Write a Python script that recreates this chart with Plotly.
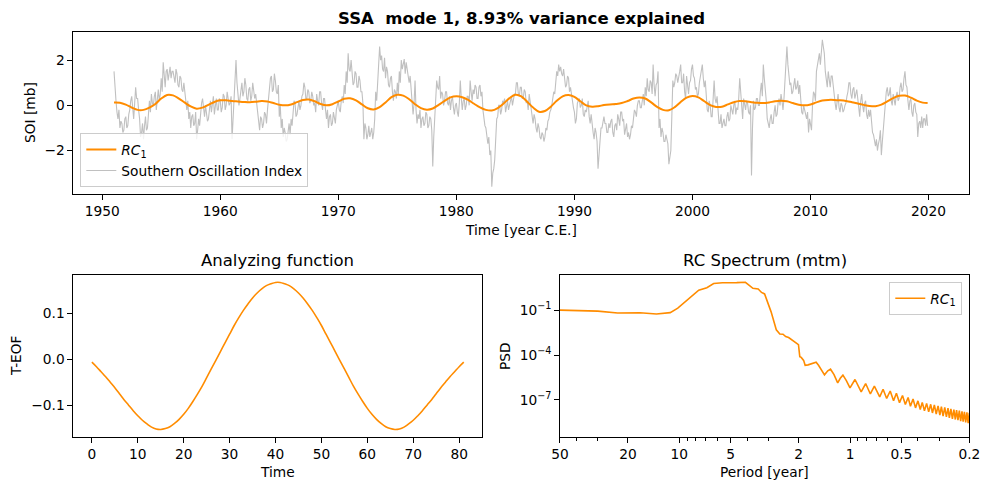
import numpy as np
import plotly.graph_objects as go

# ---------------- data ----------------
soi_start = 1951.0  # monthly series
soi_values = [
    1.5, 0.6, 0.2, -0.3, -0.6, -0.2, -1.0, -0.7, -0.8, -1.2, -1.1, -0.6,
    -0.5, -1.0, -0.9, -0.4, -0.2, 0.2, 0.4, -0.1, -0.6, 0.1, 0.8, 0.3,
    0.3, -0.2, -0.6, -1.4, -1.2, -0.8, -1.5, -0.9, -0.5, -1.1, -1.0, -0.4,
    0.2, -0.3, 0.5, 0.1, 0.0, 0.4, 0.6, -0.2, 0.3, 0.7, 0.2, 0.5,
    1.2, 0.6, 1.9, 1.3, 0.8, 1.5, 1.6, 1.1, 1.4, 1.7, 1.2, 1.5,
    1.5, 1.1, 1.0, 1.6, 1.4, 0.9, 0.8, 1.3, 1.2, 0.7, 0.6, 1.0,
    0.5, 0.1, -0.2, 0.2, -0.6, -0.3, -1.0, -0.5, -0.4, -0.9, -0.8, -0.3,
    -1.5, -1.1, -0.6, -0.9, -0.2, 0.1, 0.3, -0.3, -0.5, 0.0, -0.3, -0.7,
    -0.6, -0.2, 0.2, -0.3, 0.0, 0.4, -0.4, -0.1, 0.3, -0.2, -0.2, 0.3,
    0.2, -0.3, -0.1, 0.5, 0.4, -0.2, 0.0, 0.6, 0.3, 0.0, 0.1, 0.4,
    -1.5, -0.6, -0.3, 0.6, 2.0, 1.0, 0.5, 0.0, 0.3, 0.7, 1.0, 0.4,
    0.6, 1.2, 0.9, 0.3, 0.2, 0.7, 0.8, 0.2, 0.4, 1.0, 0.7, 0.3,
    0.5, 0.0, -0.3, -0.7, -1.1, -0.5, -0.6, -1.0, -0.8, -0.3, -0.4, -0.8,
    -0.2, 0.4, 0.8, 1.2, 1.3, 0.6, 0.7, 1.4, 1.1, 0.6, 0.5, 0.9,
    -0.5, 0.0, -1.0, -0.6, -1.4, -1.0, -1.2, -1.6, -1.5, -1.0, -0.8, -1.3,
    -0.6, -0.9, -0.3, 0.2, 0.1, -0.5, -0.4, 0.0, 0.2, -0.2, 0.0, 0.4,
    0.5, 1.0, 0.8, 0.3, 0.3, 0.7, 0.6, 0.1, 0.2, 0.6, 0.4, 0.0,
    0.1, -0.3, 0.5, 0.2, 0.0, 0.6, 0.6, 0.1, -0.2, 0.3, 0.3, -0.2,
    -0.6, -0.2, -1.0, -0.5, -0.4, -0.9, -0.8, -0.3, -0.5, -0.8, -0.2, 0.1,
    0.2, -0.2, -0.3, 0.2, 0.4, 0.1, 0.9, 0.5, 1.5, 1.0, 2.3, 1.6,
    1.5, 2.0, 1.2, 0.9, 1.0, 1.5, 1.4, 0.8, 0.8, 1.3, 1.1, 0.6,
    0.6, 0.1, -1.5, -0.8, -1.0, -1.5, -1.3, -0.9, -1.4, -1.1, -1.0, -1.5,
    -1.2, -0.6, 0.6, 0.2, 1.2, 1.8, 2.6, 2.0, 2.2, 1.6, 1.5, 2.1,
    1.2, 1.7, 1.5, 0.9, 0.8, 1.2, 1.3, 0.6, 0.2, 0.7, 0.6, 0.3,
    1.0, 0.5, 1.5, 1.0, 2.0, 1.6, 1.8, 2.05, 1.4, 1.9, 1.6, 1.2,
    1.0, 1.3, 0.8, 0.3, -0.4, 0.1, 1.1, -0.2, -0.8, -0.4, -0.6, -0.2,
    -1.0, -0.6, -0.5, -0.9, -0.8, -0.3, -0.4, -1.0, -0.9, -0.5, -0.6, -1.1,
    -2.7, -1.4, -0.5, 0.3, 1.1, 0.8, 0.7, 1.3, 0.3, 0.6, 0.5, 0.0,
    0.2, 0.6, 0.6, 0.1, 0.0, 0.4, -0.2, 0.2, 0.4, -0.1, -0.4, 0.0,
    0.1, -0.3, -0.5, 0.1, 1.1, 0.3, -0.2, 0.2, 0.3, -0.2, 0.0, 0.4,
    0.4, 0.0, 1.1, 0.6, 0.2, 0.7, 0.5, 0.9, 0.8, 0.3, 0.3, 0.8,
    0.9, 0.4, 0.6, -0.2, -0.6, -0.9, -1.0, -1.5, -1.7, -1.4, -2.2, -2.0,
    -3.6, -3.0, -2.8, -2.4, -1.2, -0.6, -0.5, 0.0, 0.0, -0.4, -0.2, 0.2,
    0.1, 0.3, -0.3, 0.0, 0.2, -0.2, 0.0, 0.3, 0.4, 0.0, 0.2, 0.5,
    0.5, 1.0, 1.0, 0.5, 0.4, 0.8, 0.8, 0.3, 0.3, 0.7, 0.6, 0.1,
    0.2, -0.2, 0.5, 0.2, 0.0, -0.4, -0.8, -0.4, -0.6, -1.0, -1.2, -0.8,
    -1.0, -1.4, -1.5, -1.2, -1.3, -1.6, -1.4, -1.0, -1.1, -0.7, -0.6, -0.3,
    -0.2, 0.0, 0.3, 0.6, 0.5, 1.0, 1.5, 1.3, 1.8, 1.5, 1.7, 1.4,
    1.3, 1.6, 1.1, 0.8, 0.9, 1.3, 1.2, 0.6, 0.8, 0.4, 0.2, -0.1,
    -0.3, -0.8, -0.6, 0.1, 0.2, 0.3, -0.1, 0.0, 0.3, -0.4, -0.5, -0.2,
    -0.3, 0.1, 0.2, -0.5, -0.8, -0.4, -1.0, -1.2, -1.5, -1.0, -1.2, -1.6,
    -2.8, -2.0, -1.4, -1.0, -1.0, -0.6, -0.5, -0.8, -0.8, -1.2, -1.2, -0.8,
    -1.0, -0.7, -0.6, -1.2, -1.4, -0.9, -0.8, -1.1, -0.4, -0.6, -0.9, -0.3,
    -0.3, -0.7, -0.6, -1.3, -1.1, -0.8, -1.4, -1.2, -1.5, -1.3, -0.9, -1.0,
    -0.6, -0.2, -0.3, -0.5, 0.0, 0.2, 0.2, -0.1, -0.1, 0.3, 0.5, 0.0,
    0.8, 0.4, 1.2, 0.7, 0.6, 1.1, 1.0, 0.5, 1.8, 0.9, 0.4, 0.9,
    1.0, 1.5, -1.0, -0.6, -1.4, -1.0, -1.2, -1.6, -1.6, -1.3, -1.5, -1.7,
    -2.6, -2.2, -2.0, -0.5, 1.1, 0.8, 1.0, 1.4, 1.3, 1.0, 1.2, 1.5,
    1.8, 1.0, 1.0, 1.4, 0.6, 0.3, 1.3, 0.8, 0.5, 1.0, 1.1, 1.6,
    1.8, 1.3, 1.2, 0.7, 0.8, 0.4, 0.5, 1.0, 1.3, 1.6, 1.8, 1.2,
    0.8, 1.1, 0.3, -0.2, -0.3, 0.2, 0.0, -0.5, -0.5, 0.4, 1.1, 0.3,
    0.1, 0.4, -0.5, -0.8, -0.8, -0.4, -1.0, -0.7, -0.6, -0.9, -0.9, -0.5,
    -0.3, -0.7, -0.6, 0.0, -0.2, -0.4, 0.0, 0.2, -0.4, -0.1, -0.2, 0.3,
    1.2, 0.4, -0.3, -0.6, 0.3, -0.1, -0.2, 0.2, 0.1, -0.3, -0.4, 0.0,
    -3.1, -1.0, 0.2, -0.2, -0.1, 0.3, 0.3, 0.0, 0.0, 0.6, 1.0, 0.4,
    1.8, 1.2, 0.8, 0.2, -0.6, -0.9, -1.0, -0.6, -0.4, -0.8, -0.8, -0.3,
    0.0, -0.5, -0.4, 0.1, 0.3, 0.0, 0.5, 0.2, -0.2, 0.3, 1.0, 1.4,
    2.6, 1.8, 1.4, 0.9, 1.0, 0.5, 0.6, 1.0, 1.2, 0.7, 0.8, 1.1,
    0.5, 0.9, 0.0, -0.3, -0.4, 0.0, -0.2, -0.5, -0.6, -0.3, -1.2, -0.6,
    -0.8, -1.1, 0.0, 0.6, 0.5, 0.2, 1.5, 1.8, 2.0, 2.3, 1.8, 2.5,
    2.9, 2.6, 2.3, 1.5, 1.2, 0.8, 1.5, 1.1, 0.8, 1.3, 1.3, 0.9,
    0.4, 0.1, -0.2, 0.3, 0.5, -0.1, -0.3, 0.1, 0.0, -0.3, -0.2, 0.0,
    0.1, 0.4, 0.6, 1.0, 1.0, 0.5, 0.3, 0.7, 0.8, 0.3, 0.5, 0.7,
    0.3, -0.2, -0.5, 0.2, 0.5, 0.0, -0.3, 0.1, 0.2, -0.4, -0.6, -0.2,
    -0.5, -0.2, -0.9, -1.2, -1.3, -1.6, -1.8, -1.5, -2.0, -1.7, -1.5, -1.1,
    -2.2, -1.6, -1.0, -0.2, 0.3, 0.6, 0.8, 0.4, 0.5, 0.8, 0.2, 0.0,
    0.5, 0.1, 0.0, 0.4, 0.6, 0.2, 0.3, 0.8, 1.0, 0.6, 0.7, 1.2,
    1.5, 0.9, 0.8, 0.2, -0.2, 0.2, 0.3, -0.3, -0.5, 0.0, 0.1, -0.3,
    -0.4, -1.4, -0.8, -0.7, -1.0, -0.5, -1.0, -0.6, -0.6, -0.9, -0.4, -0.9,
]

rc_start = 1951.0  # half-yearly samples of RC1
rc_values = [
    0.12, 0.11, 0.03, -0.10, -0.20, -0.20, -0.10, 0.06, 0.30, 0.46,
    0.44, 0.30, 0.12, -0.05, -0.15, -0.10, 0.02, 0.15, 0.22, 0.22,
    0.19, 0.17, 0.15, 0.14, 0.16, 0.19, 0.17, 0.10, 0.03, 0.00,
    0.04, 0.14, 0.24, 0.26, 0.18, 0.06, 0.00, 0.05, 0.17, 0.29,
    0.31, 0.22, 0.04, -0.13, -0.18, -0.08, 0.13, 0.36, 0.47, 0.43,
    0.27, 0.05, -0.12, -0.19, -0.14, 0.02, 0.20, 0.35, 0.40, 0.36,
    0.24, 0.07, -0.09, -0.20, -0.23, -0.12, 0.08, 0.32, 0.47, 0.40,
    0.16, -0.10, -0.28, -0.25, -0.06, 0.20, 0.40, 0.46, 0.37, 0.18,
    0.00, -0.06, -0.04, 0.01, 0.04, 0.06, 0.10, 0.19, 0.30, 0.35,
    0.30, 0.13, -0.07, -0.20, -0.22, -0.08, 0.15, 0.34, 0.41, 0.35,
    0.18, 0.01, -0.07, -0.06, 0.04, 0.14, 0.19, 0.18, 0.14, 0.11,
    0.10, 0.13, 0.18, 0.20, 0.18, 0.10, 0.03, 0.00, 0.04, 0.13,
    0.21, 0.24, 0.24, 0.22, 0.19, 0.14, 0.08, 0.02, -0.03, -0.04,
    0.03, 0.17, 0.32, 0.42, 0.43, 0.34, 0.21, 0.12, 0.10,
]

eof_values = [
    -0.006, -0.016, -0.027, -0.038, -0.050, -0.062, -0.075, -0.088, -0.100, -0.112,
    -0.123, -0.133, -0.141, -0.148, -0.152, -0.153, -0.151, -0.147, -0.140, -0.131,
    -0.120, -0.107, -0.092, -0.076, -0.059, -0.040, -0.021, -0.002, 0.017, 0.036,
    0.055, 0.074, 0.091, 0.107, 0.121, 0.134, 0.145, 0.154, 0.161, 0.165,
    0.168, 0.168, 0.165, 0.161, 0.154, 0.145, 0.134, 0.121, 0.107, 0.091,
    0.074, 0.055, 0.036, 0.017, -0.002, -0.021, -0.040, -0.059, -0.076, -0.092,
    -0.107, -0.120, -0.131, -0.140, -0.147, -0.151, -0.153, -0.152, -0.148, -0.141,
    -0.133, -0.123, -0.112, -0.100, -0.088, -0.075, -0.062, -0.050, -0.038, -0.027,
    -0.016, -0.006,
]

spec_freq = [
    0.02, 0.025, 0.0286, 0.0333, 0.0435, 0.05, 0.0588, 0.0735, 0.0833, 0.0885,
    0.098, 0.105, 0.116, 0.13, 0.145, 0.159, 0.179, 0.198, 0.217, 0.244,
    0.256, 0.27, 0.29, 0.303, 0.316, 0.345, 0.37, 0.388, 0.405, 0.42,
    0.437, 0.457, 0.481, 0.499, 0.508, 0.518, 0.535, 0.546, 0.568, 0.588,
    0.633, 0.654, 0.68, 0.709, 0.741, 0.769, 0.806, 0.847, 0.877, 0.909,
    0.952, 1.0, 1.07, 1.163, 1.235, 1.316, 1.389, 1.493, 1.5625,
    1.64, 1.72, 1.80, 1.87, 1.95, 2.03, 2.11, 2.19, 2.26, 2.34,
    2.42, 2.50, 2.58, 2.65, 2.73, 2.81, 2.89, 2.97, 3.04, 3.12,
    3.20, 3.28, 3.36, 3.43, 3.51, 3.59, 3.67, 3.75, 3.82, 3.90,
    3.98, 4.06, 4.14, 4.21, 4.29, 4.37, 4.45, 4.53, 4.60, 4.68,
    4.76, 4.84, 4.92, 5.00,
]
spec_log10_psd = [
    -0.98, -1.0, -1.02, -1.05, -1.18, -1.17, -1.16, -1.24, -1.2, -1.15,
    -0.85, -0.55, -0.1, 0.35, 0.52, 0.8, 0.85, 0.88, 0.86, 0.88,
    0.7, 0.48, 0.43, 0.2, 0.1, -1.1, -2.3, -2.58, -2.6, -2.75,
    -2.82, -3.0, -3.2, -3.3, -4.1, -4.15, -4.35, -4.68, -4.65, -4.6,
    -4.47, -4.68, -5.0, -5.32, -5.05, -4.94, -5.3, -5.86, -5.55, -5.34,
    -5.7, -6.19, -5.63, -6.46, -5.9, -6.6, -6.08, -6.79, -6.28,
    -6.90, -6.40, -7.05, -6.55, -7.18, -6.70, -7.31, -6.83, -7.42, -6.94,
    -7.53, -7.06, -7.64, -7.16, -7.72, -7.23, -7.80, -7.29, -7.87, -7.34,
    -7.94, -7.40, -8.01, -7.45, -8.08, -7.50, -8.14, -7.55, -8.20, -7.59,
    -8.26, -7.64, -8.31, -7.68, -8.36, -7.72, -8.42, -7.76, -8.46, -7.80,
    -8.51, -7.83, -8.56, -7.87,
]

period_ticks = [50, 20, 10, 5, 2, 1, 0.5, 0.2]
period_minor = [40, 30, 9, 8, 7, 6, 4, 3, 0.9, 0.8, 0.7, 0.6, 0.4, 0.3]

# ---------------- derived ----------------
soi_time = [soi_start + i / 12 for i in range(len(soi_values))]
rc_time = [rc_start + 0.5 * i for i in range(len(rc_values) - 1)] + [2019.917]
eof_time = list(range(len(eof_values)))
period = [1.0 / f for f in spec_freq]
psd = [10.0 ** v for v in spec_log10_psd]

ORANGE = "#ff8c00"
GRAY = "#c0c0c0"
FONT = "DejaVu Sans"
FS = 13.75

fig = go.Figure()
fig.add_trace(go.Scatter(x=soi_time, y=soi_values, mode="lines",
                         line=dict(color=GRAY, width=1.1),
                         name="Southern Oscillation Index",
                         xaxis="x", yaxis="y", legend="legend", legendrank=2))
fig.add_trace(go.Scatter(x=rc_time, y=rc_values, mode="lines",
                         line=dict(color=ORANGE, width=2, shape="spline", smoothing=1.0),
                         name="<i>RC</i><sub>1</sub>",
                         xaxis="x", yaxis="y", legend="legend", legendrank=1))
fig.add_trace(go.Scatter(x=eof_time, y=eof_values, mode="lines",
                         line=dict(color=ORANGE, width=1.6, shape="spline"),
                         showlegend=False, xaxis="x2", yaxis="y2"))
fig.add_trace(go.Scatter(x=period, y=psd, mode="lines",
                         line=dict(color=ORANGE, width=1.6),
                         name="<i>RC</i><sub>1</sub>",
                         xaxis="x3", yaxis="y3", legend="legend2"))

axis_common = dict(showline=True, mirror=True, linecolor="black", linewidth=1.1,
                   ticks="outside", ticklen=4.8, tickwidth=1.1, tickcolor="black",
                   showgrid=False, zeroline=False, automargin=False,
                   tickfont=dict(family=FONT, size=FS, color="black"))

fig.update_layout(
    width=989, height=490, autosize=False,
    margin=dict(l=0, r=0, t=0, b=0, pad=0, autoexpand=False),
    paper_bgcolor="white", plot_bgcolor="white",
    font=dict(family=FONT, size=FS, color="black"),
    xaxis=dict(domain=[0.0741, 0.9801], anchor="y", range=[1947.55, 2023.45],
               tickmode="array", tickvals=[1950, 1960, 1970, 1980, 1990, 2000, 2010, 2020],
               **axis_common),
    yaxis=dict(domain=[0.6041, 0.9341], anchor="x", range=[-3.92, 3.23],
               tickmode="array", tickvals=[-2, 0, 2], ticktext=["\u22122", "0", "2"],
               **axis_common),
    xaxis2=dict(domain=[0.0741, 0.4877], anchor="y2", range=[-4.05, 85.05],
                tickmode="array", tickvals=[0, 10, 20, 30, 40, 50, 60, 70, 80],
                **axis_common),
    yaxis2=dict(domain=[0.1082, 0.4388], anchor="x2", range=[-0.1695, 0.1843],
                tickmode="array", tickvals=[-0.1, 0.0, 0.1],
                ticktext=["\u22120.1", "0.0", "0.1"], **axis_common),
    xaxis3=dict(domain=[0.5662, 0.9801], anchor="y3", type="log",
                range=[np.log10(50), np.log10(0.2)],
                tickmode="array", tickvals=period_ticks,
                ticktext=[str(v) for v in period_ticks],
                minor=dict(tickmode="array", tickvals=period_minor, ticks="outside",
                           ticklen=2.8, tickwidth=0.8, tickcolor="black", showgrid=False),
                **axis_common),
    yaxis3=dict(domain=[0.1082, 0.4388], anchor="x3", type="log",
                range=[-9.48, 1.37],
                tickmode="array", tickvals=[1e-1, 1e-4, 1e-7],
                ticktext=["10<sup>\u22121</sup>", "10<sup>\u22124</sup>", "10<sup>\u22127</sup>"],
                **axis_common),
    legend=dict(x=0.0812, y=0.618, xanchor="left", yanchor="bottom",
                bgcolor="rgba(255,255,255,0.8)", bordercolor="#cccccc", borderwidth=1,
                font=dict(family=FONT, size=FS, color="black"),
                itemwidth=30, tracegroupgap=0),
    legend2=dict(x=0.973, y=0.425, xanchor="right", yanchor="top",
                 bgcolor="rgba(255,255,255,0.8)", bordercolor="#cccccc", borderwidth=1,
                 font=dict(family=FONT, size=FS, color="black"),
                 itemwidth=30),
    showlegend=True,
)

ann = [
    dict(text="<b>SSA\u00a0 mode 1, 8.93% variance explained</b>", x=0.5268, y=1 - 18 / 490,
         font=dict(size=16.5)),
    dict(text="Analyzing function", x=277.8 / 989, y=1 - 260.5 / 490, font=dict(size=16.5)),
    dict(text="RC Spectrum (mtm)", x=764.7 / 989, y=1 - 260.5 / 490, font=dict(size=16.5)),
    dict(text="Time [year C.E.]", x=521 / 989, y=1 - 230 / 490),
    dict(text="Time", x=277.8 / 989, y=1 - 471.5 / 490),
    dict(text="Period [year]", x=764.7 / 989, y=1 - 471.5 / 490),
    dict(text="SOI [mb]", x=30 / 989, y=1 - 113 / 490, textangle=-90),
    dict(text="T-EOF", x=16 / 989, y=1 - 356 / 490, textangle=-90),
    dict(text="PSD", x=505 / 989, y=1 - 356 / 490, textangle=-90),
]
for a in ann:
    size = a.pop("font", {}).get("size", FS)
    fig.add_annotation(xref="paper", yref="paper", showarrow=False,
                       xanchor="center", yanchor="middle",
                       font=dict(family=FONT, color="black", size=size), **a)

fig.write_html(
    "out.html",
    config={"responsive": False, "displayModeBar": False},
    post_script="document.documentElement.style.margin='0';document.body.style.margin='0';"
                "document.body.style.padding='0';document.body.style.overflow='hidden';",
)
